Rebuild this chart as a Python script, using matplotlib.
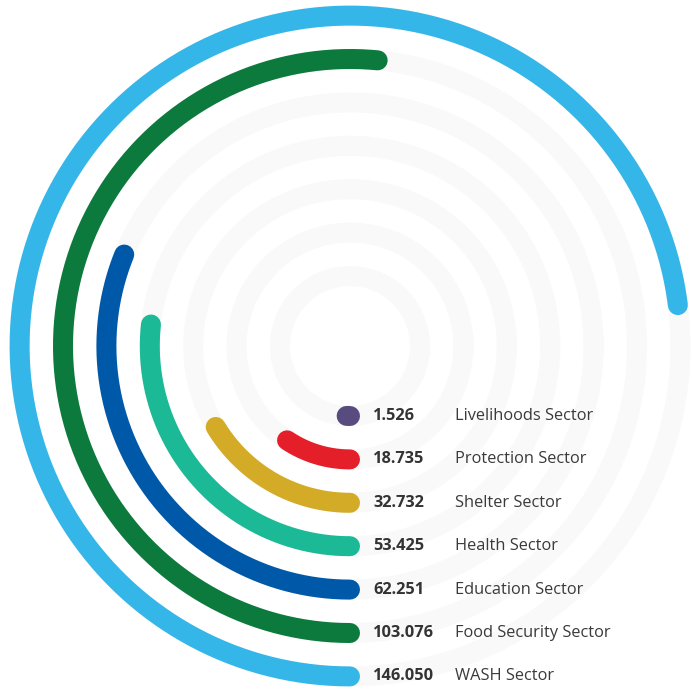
import numpy as np
import matplotlib.pyplot as plt

sectors = ["Livelihoods Sector", "Protection Sector", "Shelter Sector", "Health Sector",
           "Education Sector", "Food Security Sector", "WASH Sector"]
values = [1526, 18735, 32732, 53425, 62251, 103076, 146050]
labels = ["1.526", "18.735", "32.732", "53.425", "62.251", "103.076", "146.050"]
colors = ["#574b80", "#e41f2a", "#d4ab26", "#1bb995", "#0059a8", "#0c7a3c", "#35b6e9"]
max_value = 200000

fig = plt.figure(figsize=(6.92, 6.89), dpi=100)
ax = fig.add_axes([0, 0, 1, 1])
ax.set_xlim(0, 692)
ax.set_ylim(689, 0)
ax.set_aspect("equal")
ax.axis("off")

cx, cy = 350, 346
r0, step = 70, 43.4
lw = 14.4

for i, (name, val, lab, col) in enumerate(zip(sectors, values, labels, colors)):
    r = r0 + i * step
    # background ring
    t = np.linspace(0, 2 * np.pi, 400)
    ax.plot(cx + r * np.cos(t), cy + r * np.sin(t), color="#f9f9f9", lw=lw, zorder=1)
    # value arc: start at bottom, go clockwise
    sweep = val / max_value * 2 * np.pi
    a = np.pi / 2 + np.linspace(0, sweep, 300)
    ax.plot(cx + r * np.cos(a), cy + r * np.sin(a), color=col, lw=lw,
            solid_capstyle="round", zorder=2)
    y = cy + r
    ax.text(373, y, lab, fontsize=11.8, fontweight="bold", color="#333333",
            family="Open Sans", va="center", ha="left")
    ax.text(455, y, name, fontsize=11.8, color="#3a3a3a",
            family="Open Sans", va="center", ha="left")

fig.savefig("out.png", dpi=100, facecolor="white")
